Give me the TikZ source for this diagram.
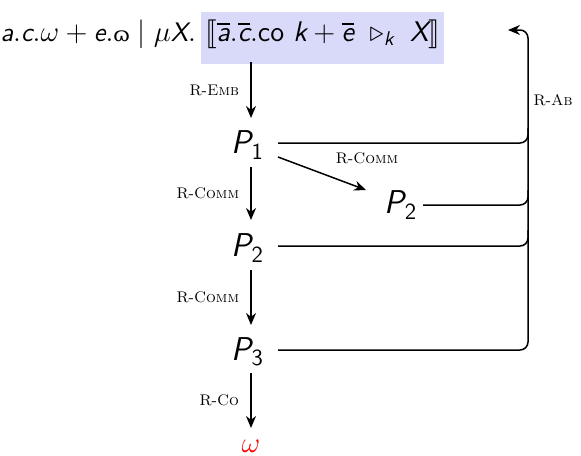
\documentclass[tikz,border=0pt]{standalone}
\usepackage{amsmath}
\usepackage{stmaryrd}
\usepackage{fontspec}
\newfontfamily\ipafont{DejaVu Serif}
\usetikzlibrary{arrows.meta}
\newcommand\sv[1]{\textsf{\itshape #1}}
\newcommand\su[1]{\textsf{#1}}
\definecolor{hlblue}{RGB}{217,217,250}
\begin{document}
\begin{tikzpicture}[x=0.5pt,y=-0.5pt,
  every node/.style={inner sep=0pt, outer sep=0pt},
  pnode/.style={font=\fontsize{16.5}{20}\selectfont},
  lab/.style={font=\fontsize{7.7}{9}\selectfont},
  arr/.style={line width=0.75pt, -{Stealth[length=6pt,width=5pt]}},
  fb/.style={line width=0.75pt, rounded corners=4pt},
  topf/.style={font=\fontsize{14.2}{17}\selectfont}]
\useasboundingbox (0,0) rectangle (581,455);
% top line
\node[topf, fill=hlblue, anchor=base west, minimum height=26pt, text depth=7.5pt, inner xsep=2pt] (hl) at (201,41)
  {$\llbracket \overline{\sv{a}}.\overline{\sv{c}}.\su{co}\ \sv{k} + \overline{\sv{e}}\ \triangleright_{\sv{k}}\ \sv{X}\rrbracket$};
\node[font=\fontsize{13.4}{16}\selectfont, anchor=base east] (tl) at ([xshift=-2.5pt]hl.base west)
  {$\sv{a}.\sv{c}.\omega + \sv{e}.\text{\ipafont\scalebox{0.75}{ɷ}} \mid \mu \sv{X}.$};
% process nodes
\node[pnode] (P1) at (248,145) {$\sv{P}_{\su{1}}$};
\node[pnode] (Q2) at (401,205) {$\sv{P}_{\su{2}}$};
\node[pnode] (P2) at (248,248) {$\sv{P}_{\su{2}}$};
\node[pnode] (P3) at (248,352) {$\sv{P}_{\su{3}}$};
\node[font=\fontsize{14.4}{17}\selectfont, text=red] (om) at (251,446) {$\omega$};
\coordinate (s0) at (251,62);
% vertical arrows
\draw[arr] (s0) -- (251,118) node[midway, left=6pt, lab] (l1) {R-\textsc{Emb}};
\draw[arr] (251,167) -- (251,220) node[midway, left=6pt, lab] (l2) {R-\textsc{Comm}};
\draw[arr] (251,270) -- (251,325) node[midway, left=6pt, lab] (l3) {R-\textsc{Comm}};
\draw[arr] (251,373) -- (251,428) node[midway, left=6pt, lab] (l4) {R-\textsc{Co}};
\draw[arr] (278,157) -- (366,190);
\node[lab] (l5) at (367,158) {R-\textsc{Comm}};
% feedback lines
\draw[fb, -{Stealth[length=6pt,width=5pt]}] (278,350) -- (528,350) -- (528,30) -- (508,30);
\draw[fb] (278,143) -- (528,143) -- (528,128);
\draw[fb] (423,205) -- (528,205) -- (528,190);
\draw[fb] (278,246) -- (528,246) -- (528,230);
\node[lab] (l6) at (553,100) {R-\textsc{Ab}};
\end{tikzpicture}
\end{document}
